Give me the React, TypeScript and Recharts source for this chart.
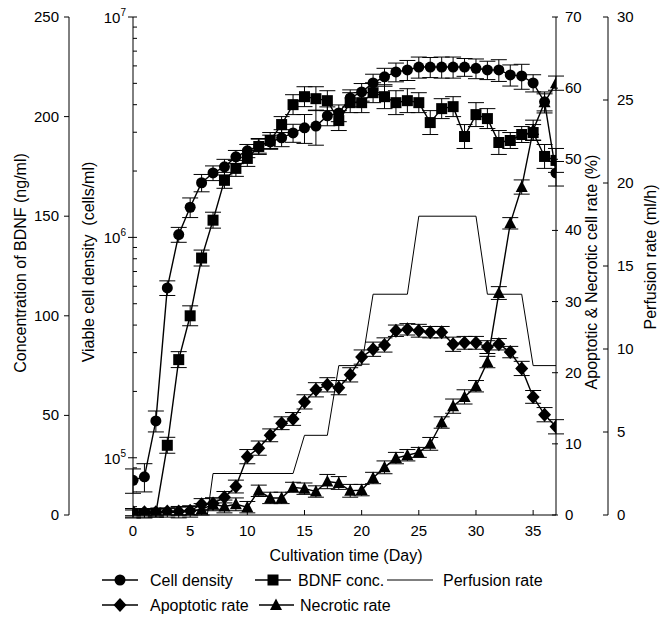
import React from 'react';
import { ComposedChart, Line, XAxis, YAxis, ErrorBar } from 'recharts';

// 培養日数
const days = [0, 1, 2, 3, 4, 5, 6, 7, 8, 9, 10, 11, 12, 13, 14, 15, 16, 17, 18, 19, 20, 21, 22, 23, 24, 25, 26, 27, 28, 29, 30, 31, 32, 33, 34, 35, 36, 37];

// Viable cell density (cells/ml)
const cellDensity = [79000, 82000, 147000, 590000, 1030000, 1370000, 1770000, 1960000, 2090000, 2320000, 2470000, 2600000, 2710000, 2830000, 2980000, 3140000, 3200000, 3560000, 3670000, 4290000, 4570000, 5020000, 5350000, 5630000, 5750000, 5930000, 5930000, 5930000, 5930000, 5930000, 5850000, 5750000, 5750000, 5460000, 5400000, 5020000, 4120000, 1960000];
const cellDensityErr = [10000, 12000, 16000, 45000, 80000, 140000, 160000, 150000, 170000, 160000, 170000, 190000, 200000, 250000, 280000, 470000, 580000, 350000, 320000, 380000, 420000, 480000, 500000, 550000, 600000, 650000, 620000, 650000, 650000, 550000, 600000, 550000, 650000, 600000, 700000, 450000, 450000, 250000];

// BDNF conc. (ng/ml)
const bdnfConc = [0.5, 0.5, 1, 35, 78, 100, 129, 148, 168, 174, 179, 185, 188, 196, 206, 210, 209, 208, 198, 207, 207, 212, 210, 207, 208, 207, 197, 204, 205, 190, 201, 199, 187, 188, 191, 192, 180, 178];
const bdnfErr = [2, 2, 2, 4, 4, 5, 4, 4, 4, 4, 4, 4, 4, 4, 5, 5, 6, 5, 5, 5, 5, 5, 6, 6, 6, 5, 6, 5, 5, 6, 6, 5, 6, 4, 4, 4, 6, 6];

// Apoptotic rate (%)
const apoptoticRate = [0.4, 0.4, 0.4, 0.5, 0.5, 0.6, 1.5, 1.6, 2.5, 4.0, 8.2, 9.4, 11.2, 12.9, 13.5, 15.9, 17.6, 18.3, 17.9, 19.7, 22.2, 23.3, 23.9, 25.9, 26.1, 25.9, 25.7, 25.7, 24.0, 24.2, 24.2, 23.6, 24.0, 22.9, 20.6, 16.6, 14.1, 12.4];
const apoptoticErr = [0.5, 0.5, 0.5, 0.5, 0.6, 0.6, 0.8, 0.8, 0.8, 0.9, 1.0, 1.0, 0.9, 0.9, 0.9, 1.0, 1.0, 1.0, 1.0, 1.0, 1.0, 1.0, 1.0, 0.8, 0.8, 0.9, 0.8, 0.8, 1.0, 0.9, 0.9, 0.9, 0.8, 0.8, 1.0, 0.9, 1.0, 1.0];

// Necrotic rate (%)
const necroticRate = [0.3, 0.3, 0.3, 0.3, 0.4, 0.5, 0.8, 1.5, 1.2, 1.5, 1.1, 3.4, 2.4, 2.4, 3.9, 3.7, 3.3, 4.7, 4.5, 3.4, 3.5, 5.2, 6.7, 8.0, 8.4, 8.8, 10.0, 13.0, 15.3, 16.6, 18.1, 21.5, 31.2, 41.0, 46.1, 54.1, 58.0, 60.7];
const necroticErr = [0.6, 0.6, 0.6, 0.6, 0.8, 0.8, 0.8, 0.9, 0.9, 0.9, 0.8, 0.8, 0.8, 0.8, 0.7, 0.8, 0.8, 1.0, 0.9, 0.9, 0.8, 0.8, 0.9, 0.8, 0.8, 0.7, 0.9, 0.8, 1.0, 1.0, 0.8, 0.8, 0.9, 0.8, 1.0, 1.4, 1.2, 1.0];

// Perfusion rate (ml/h)
const perfusionDays = [0, 6.5, 7, 14, 15, 17, 18, 20, 21, 24, 25, 30, 31, 34, 35, 37];
const perfusionRate = [0, 0, 2.5, 2.5, 4.8, 4.8, 9, 9, 13.3, 13.3, 18, 18, 13.3, 13.3, 9, 9];

// 軸の目盛
const dayTicks = [0, 5, 10, 15, 20, 25, 30, 35];
const bdnfTicks = [0, 50, 100, 150, 200, 250];
const cellTicks = [60000, 70000, 80000, 90000, 100000, 200000, 300000, 400000, 500000, 600000, 700000, 800000, 900000, 1000000, 2000000, 3000000, 4000000, 5000000, 6000000, 7000000, 8000000, 9000000, 10000000];
const rateTicks = [0, 10, 20, 30, 40, 50, 60, 70];
const perfusionTicks = [0, 5, 10, 15, 20, 25, 30];

const FONT = '"Liberation Sans", Arial, Helvetica, sans-serif';

const cellData = days.map((d, i) => ({ day: d, value: cellDensity[i], err: cellDensityErr[i] }));
const bdnfData = days.map((d, i) => ({ day: d, value: bdnfConc[i], err: bdnfErr[i] }));
const apoptoticData = days.map((d, i) => ({ day: d, value: apoptoticRate[i], err: apoptoticErr[i] }));
const necroticData = days.map((d, i) => ({ day: d, value: necroticRate[i], err: necroticErr[i] }));
const perfusionData = perfusionDays.map((d, i) => ({ day: d, value: perfusionRate[i] }));

// マーカー
const circleShape = (cx: number, cy: number) => <circle cx={cx} cy={cy} r={5.5} fill="#000" />;
const squareShape = (cx: number, cy: number) => <rect x={cx - 5.5} y={cy - 5.5} width={11} height={11} fill="#000" />;
const diamondShape = (cx: number, cy: number) => (
  <polygon points={`${cx},${cy - 7} ${cx + 6.5},${cy} ${cx},${cy + 7} ${cx - 6.5},${cy}`} fill="#000" />
);
const triangleShape = (cx: number, cy: number) => (
  <polygon points={`${cx},${cy - 6.5} ${cx + 6},${cy + 5} ${cx - 6},${cy + 5}`} fill="#000" />
);

const makeDot = (shape: (cx: number, cy: number) => React.ReactElement) => (p: any) => {
  if (p.cx == null || p.cy == null) return <g key={p.index} />;
  return <g key={p.index}>{shape(p.cx, p.cy)}</g>;
};

function BdnfTick({ x, y, payload }: any) {
  return (
    <g>
      <line x1={x - 5} x2={x} y1={y} y2={y} stroke="#000" />
      <text x={x - 10} y={y} dy={5} textAnchor="end" fontSize={15} fontFamily={FONT} fill="#000">
        {payload.value}
      </text>
    </g>
  );
}

function CellTick({ x, y, payload }: any) {
  const lg = Math.log10(payload.value);
  const exp = Math.round(lg);
  if (Math.abs(lg - exp) > 1e-6) {
    return <line x1={x} x2={x + 4} y1={y} y2={y} stroke="#000" />;
  }
  return (
    <g>
      <line x1={x - 5} x2={x + 4} y1={y} y2={y} stroke="#000" />
      <text x={x - 7} y={y} dy={6} textAnchor="end" fontSize={15} fontFamily={FONT} fill="#000">
        <tspan>10</tspan>
        <tspan dy={-7} fontSize={10}>{exp}</tspan>
      </text>
    </g>
  );
}

function RateTick({ x, y, payload }: any) {
  return (
    <g>
      <line x1={x - 4} x2={x + 2} y1={y} y2={y} stroke="#000" />
      <text x={x + 9} y={y} dy={5} textAnchor="start" fontSize={15} fontFamily={FONT} fill="#000">
        {payload.value}
      </text>
    </g>
  );
}

function PerfusionTick({ x, y, payload }: any) {
  return (
    <g>
      <line x1={x - 5} x2={x} y1={y} y2={y} stroke="#000" />
      <text x={x + 9} y={y} dy={5} textAnchor="start" fontSize={15} fontFamily={FONT} fill="#000">
        {payload.value}
      </text>
    </g>
  );
}

function DayTick({ x, y, payload }: any) {
  return (
    <g>
      <line x1={x} x2={x} y1={y - 5} y2={y} stroke="#000" />
      <text x={x} y={y} dy={21} textAnchor="middle" fontSize={15} fontFamily={FONT} fill="#000">
        {payload.value}
      </text>
    </g>
  );
}

function Overlay() {
  const t = { fontFamily: FONT, fill: '#000' } as const;
  return (
    <svg width={668} height={619} style={{ position: 'absolute', left: 0, top: 0, pointerEvents: 'none' }}>
      <text {...t} fontSize={16} textAnchor="middle" transform="translate(26,263) rotate(-90)">
        Concentration of BDNF (ng/ml)
      </text>
      <text {...t} fontSize={16} textAnchor="middle" transform="translate(94,262) rotate(-90)" style={{ whiteSpace: 'pre' }}>
        {'Viable cell density  (cells/ml)'}
      </text>
      <text {...t} fontSize={16} textAnchor="middle" transform="translate(597,272) rotate(-90)">
        Apoptotic &amp; Necrotic cell rate (%)
      </text>
      <text {...t} fontSize={16} textAnchor="middle" transform="translate(656,257) rotate(-90)">
        Perfusion rate (ml/h)
      </text>
      <text {...t} fontSize={16} textAnchor="middle" x={346} y={561}>
        Cultivation time (Day)
      </text>

      {/* 凡例 */}
      <line x1={102} x2={138} y1={580} y2={580} stroke="#000" strokeWidth={1.3} />
      {circleShape(120, 580)}
      <text {...t} fontSize={16} x={150} y={586}>Cell density</text>
      <line x1={255} x2={291} y1={580} y2={580} stroke="#000" strokeWidth={1.3} />
      {squareShape(273, 580)}
      <text {...t} fontSize={16} x={298} y={586}>BDNF conc.</text>
      <line x1={387} x2={433} y1={580} y2={580} stroke="#000" strokeWidth={1} />
      <text {...t} fontSize={16} x={443} y={586}>Perfusion rate</text>

      <line x1={102} x2={138} y1={605} y2={605} stroke="#000" strokeWidth={1.3} />
      {diamondShape(120, 605)}
      <text {...t} fontSize={16} x={150} y={611}>Apoptotic rate</text>
      <line x1={259} x2={294} y1={605} y2={605} stroke="#000" strokeWidth={1.3} />
      {triangleShape(276, 605)}
      <text {...t} fontSize={16} x={300} y={611}>Necrotic rate</text>
    </svg>
  );
}

export default function App() {
  return (
    <div style={{ position: 'absolute', left: 0, top: 0, width: 668, height: 619, background: '#fff' }}>
      <ComposedChart width={668} height={619} margin={{ top: 17, right: 0, bottom: 74, left: 0 }}>
        <XAxis
          dataKey="day"
          type="number"
          domain={[0, 37]}
          allowDataOverflow
          ticks={dayTicks}
          interval={0}
          tickSize={0}
          tickMargin={0}
          tickLine={false}
          tick={<DayTick />}
          height={30}
          axisLine={{ stroke: '#000' }}
        />
        <XAxis xAxisId="top" orientation="top" type="number" domain={[0, 37]} height={0} tick={false} tickLine={false} axisLine={{ stroke: '#000' }} />

        {/* 軸の並びは id 順（内側が先） */}
        <YAxis
          yAxisId="aCell"
          orientation="left"
          type="number"
          scale="log"
          domain={[55000, 10000000]}
          allowDataOverflow
          ticks={cellTicks}
          interval={0}
          width={64}
          tickSize={0}
          tickMargin={0}
          tickLine={false}
          tick={<CellTick />}
          axisLine={{ stroke: '#000' }}
        />
        <YAxis
          yAxisId="bBdnf"
          orientation="left"
          type="number"
          domain={[0, 250]}
          allowDataOverflow
          ticks={bdnfTicks}
          interval={0}
          width={69}
          tickSize={0}
          tickMargin={0}
          tickLine={false}
          tick={<BdnfTick />}
          axisLine={{ stroke: '#000' }}
        />
        <YAxis
          yAxisId="aRate"
          orientation="right"
          type="number"
          domain={[0, 70]}
          allowDataOverflow
          ticks={rateTicks}
          interval={0}
          width={52}
          tickSize={0}
          tickMargin={0}
          tickLine={false}
          tick={<RateTick />}
          axisLine={{ stroke: '#000' }}
        />
        <YAxis
          yAxisId="bPerf"
          orientation="right"
          type="number"
          domain={[0, 30]}
          allowDataOverflow
          ticks={perfusionTicks}
          interval={0}
          width={60}
          tickSize={0}
          tickMargin={0}
          tickLine={false}
          tick={<PerfusionTick />}
          axisLine={{ stroke: '#000' }}
        />

        <Line yAxisId="bPerf" data={perfusionData} dataKey="value" type="linear" stroke="#000" strokeWidth={1} dot={false} activeDot={false} isAnimationActive={false} />

        <Line yAxisId="aRate" data={necroticData} dataKey="value" type="linear" stroke="#000" strokeWidth={1.4} dot={makeDot(triangleShape)} activeDot={false} isAnimationActive={false}>
          <ErrorBar dataKey="err" width={8} stroke="#000" strokeWidth={1} direction="y" />
        </Line>
        <Line yAxisId="aRate" data={apoptoticData} dataKey="value" type="linear" stroke="#000" strokeWidth={1.4} dot={makeDot(diamondShape)} activeDot={false} isAnimationActive={false}>
          <ErrorBar dataKey="err" width={8} stroke="#000" strokeWidth={1} direction="y" />
        </Line>
        <Line yAxisId="bBdnf" data={bdnfData} dataKey="value" type="linear" stroke="#000" strokeWidth={1.4} dot={makeDot(squareShape)} activeDot={false} isAnimationActive={false}>
          <ErrorBar dataKey="err" width={8} stroke="#000" strokeWidth={1} direction="y" />
        </Line>
        <Line yAxisId="aCell" data={cellData} dataKey="value" type="linear" stroke="#000" strokeWidth={1.4} dot={makeDot(circleShape)} activeDot={false} isAnimationActive={false}>
          <ErrorBar dataKey="err" width={8} stroke="#000" strokeWidth={1} direction="y" />
        </Line>
      </ComposedChart>
      <Overlay />
    </div>
  );
}
